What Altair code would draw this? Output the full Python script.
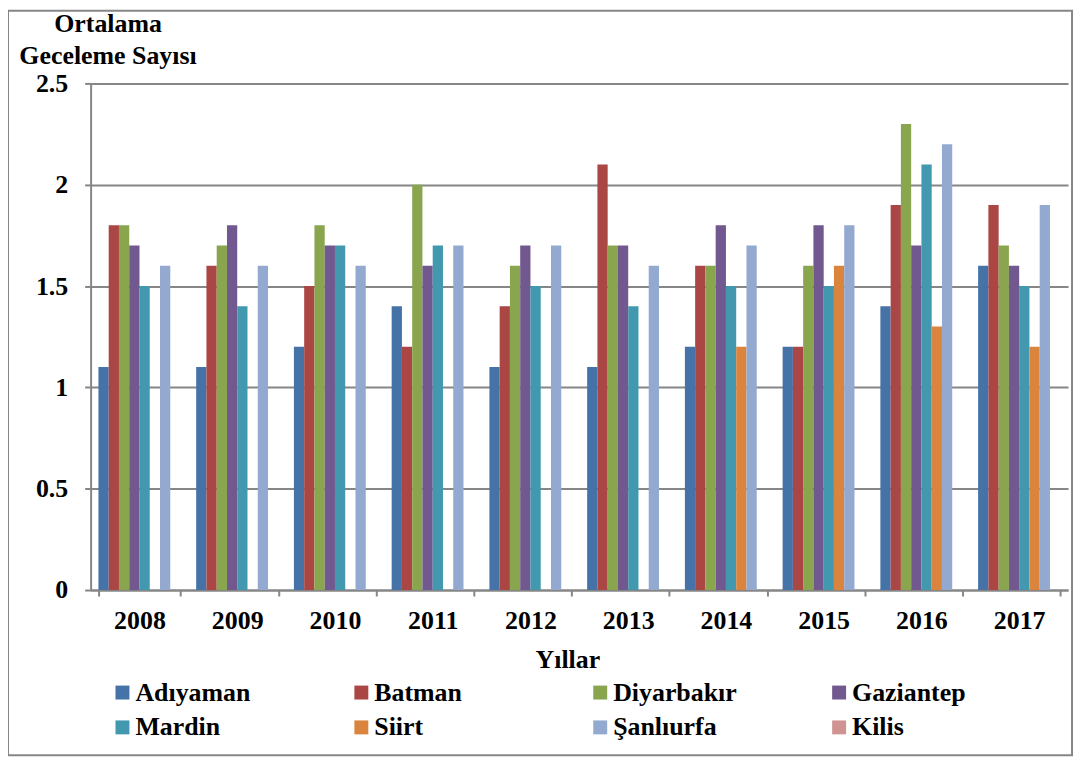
import altair as alt
import pandas as pd

years = ["2008", "2009", "2010", "2011", "2012", "2013", "2014", "2015", "2016", "2017"]
cities = ["Adıyaman", "Batman", "Diyarbakır", "Gaziantep", "Mardin", "Siirt", "Şanlıurfa", "Kilis"]
colors = ["#4572A7", "#AA4643", "#89A54E", "#71588F", "#4198AF", "#DB843D", "#93A9CF", "#D19392"]

adiyaman = [1.1, 1.1, 1.2, 1.4, 1.1, 1.1, 1.2, 1.2, 1.4, 1.6]
batman = [1.8, 1.6, 1.5, 1.2, 1.4, 2.1, 1.6, 1.2, 1.9, 1.9]
diyarbakir = [1.8, 1.7, 1.8, 2.0, 1.6, 1.7, 1.6, 1.6, 2.3, 1.7]
gaziantep = [1.7, 1.8, 1.7, 1.6, 1.7, 1.7, 1.8, 1.8, 1.7, 1.6]
mardin = [1.5, 1.4, 1.7, 1.7, 1.5, 1.4, 1.5, 1.5, 2.1, 1.5]
siirt = [None, None, None, None, None, None, 1.2, 1.6, 1.3, 1.2]
sanliurfa = [1.6, 1.6, 1.6, 1.7, 1.7, 1.6, 1.7, 1.8, 2.2, 1.9]
kilis = [None] * 10

series = [adiyaman, batman, diyarbakir, gaziantep, mardin, siirt, sanliurfa, kilis]
rows = []
for city, vals in zip(cities, series):
    for y, v in zip(years, vals):
        if v is not None:
            rows.append({"Yıl": y, "Şehir": city, "Değer": v})
df = pd.DataFrame(rows)

FONT = "Liberation Serif"
GRAY = "#868686"

bars = alt.Chart(df).mark_bar().encode(
    x=alt.X("Yıl:N", sort=years,
            scale=alt.Scale(domain=years, paddingInner=0.16, paddingOuter=0.08),
            axis=alt.Axis(title="Yıllar", labelAngle=0, tickBand="extent",
                          tickSize=6, tickColor=GRAY, tickWidth=2,
                          domainColor=GRAY, domainWidth=2, labelPadding=12,
                          labelFont=FONT, labelFontSize=26, labelFontWeight="bold",
                          labelColor="black", titleFont=FONT, titleFontSize=26,
                          titleFontWeight="bold", titleColor="black",
                          titleX=479, titleY=70, titleBaseline="middle",
                          titleAlign="center", grid=False)),
    xOffset=alt.XOffset("Şehir:N", scale=alt.Scale(domain=cities, paddingInner=0)),
    y=alt.Y("Değer:Q",
            scale=alt.Scale(domain=[0, 2.5], nice=False),
            axis=alt.Axis(title=["Ortalama", "Geceleme Sayısı"], values=[0, 0.5, 1, 1.5, 2, 2.5],
                          format="~g", tickSize=6, tickColor=GRAY, tickWidth=2,
                          domainColor=GRAY, domainWidth=2, labelPadding=17,
                          gridColor=GRAY, gridWidth=2,
                          labelFont=FONT, labelFontSize=26, labelFontWeight="bold",
                          labelColor="black", titleFont=FONT, titleFontSize=26,
                          titleFontWeight="bold", titleColor="black", titleAngle=0,
                          titleX=17, titleY=-73, titleAlign="center", titleBaseline="top",
                          titleLineHeight=32)),
    color=alt.Color("Şehir:N", scale=alt.Scale(domain=cities, range=colors),
                    legend=alt.Legend(title=None, orient="none", legendX=19, legendY=599,
                                      columns=4, direction="horizontal", gridAlign="all",
                                      columnPadding=89, rowPadding=9, padding=0,
                                      symbolType="square", symbolSize=196,
                                      symbolStrokeWidth=0, symbolOffset=0,
                                      labelFont=FONT, labelFontSize=26,
                                      labelFontWeight="bold", labelColor="black",
                                      labelOffset=0, labelLimit=300)),
)

border = alt.Chart(alt.Data(values=[{}])).mark_rect(
    fill=None, stroke=GRAY, strokeWidth=2
).encode(
    x=alt.value(-83), x2=alt.value(986), y=alt.value(-73), y2=alt.value(675)
)

chart = alt.layer(bars, border).properties(
    width=982, height=509,
    autosize=alt.AutoSizeParams(type="none"),
    padding={"left": 83, "top": 74, "right": 10, "bottom": 168},
).configure_view(stroke=None)

chart.save("out.html", embed_options={"renderer": "svg", "actions": False})
